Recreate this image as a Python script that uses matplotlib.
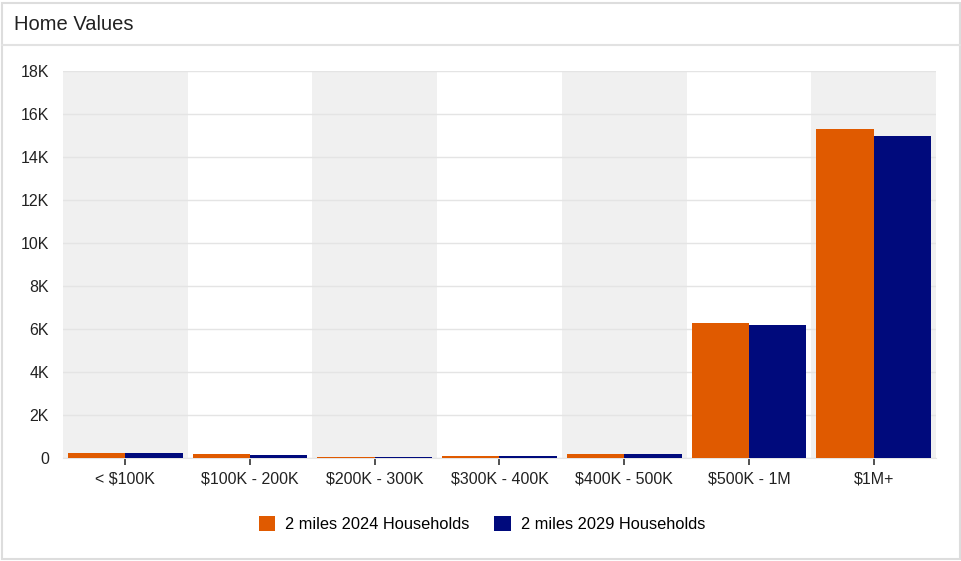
import matplotlib.pyplot as plt
import numpy as np
from matplotlib.patches import Rectangle
from matplotlib.lines import Line2D
from matplotlib.ticker import FuncFormatter

categories = ['< $100K', '$100K - 200K', '$200K - 300K', '$300K - 400K',
              '$400K - 500K', '$500K - 1M', '$1M+']
hh_2024 = [220, 170, 60, 80, 180, 6280, 15300]
hh_2029 = [210, 160, 55, 75, 170, 6190, 14980]
series_names = ['2 miles 2024 Households', '2 miles 2029 Households']
colors = ['#E05A00', '#000A7C']

plt.rcParams['font.family'] = ['Liberation Sans', 'DejaVu Sans']

fig = plt.figure(figsize=(9.62, 5.61), dpi=100)
fig.patch.set_facecolor('white')

# panel frame + title bar
fig.add_artist(Rectangle((0.002, 0.004), 0.996, 0.99, transform=fig.transFigure,
                         fill=False, edgecolor='#DDDDDD', linewidth=1.5))
fig.add_artist(Line2D([0.002, 0.998], [1 - 45 / 561] * 2, transform=fig.transFigure,
                      color='#E2E2E2', linewidth=1.5))
fig.text(14 / 962, 1 - 25 / 561, 'Home Values', fontsize=14.5, color='#222222',
         va='center', ha='left')

ax = fig.add_axes([63 / 962, 1 - 458 / 561, (936 - 63) / 962, (458 - 71) / 561])
x = np.arange(len(categories))

# alternating band shading
for i in x:
    if i % 2 == 0:
        ax.axvspan(i - 0.5, i + 0.5, color='#F0F0F0', zorder=0, linewidth=0)

w = 0.46
ax.bar(x - w / 2, hh_2024, width=w, color=colors[0], label=series_names[0], zorder=3)
ax.bar(x + w / 2, hh_2029, width=w, color=colors[1], label=series_names[1], zorder=3)

ax.set_xlim(-0.5, len(categories) - 0.5)
ax.set_ylim(0, 18000)
ax.set_yticks(np.arange(0, 18001, 2000))
ax.yaxis.set_major_formatter(FuncFormatter(lambda v, p: '0' if v == 0 else f'{int(v / 1000)}K'))
ax.grid(axis='y', color='#E4E4E4', linewidth=1, zorder=1)
ax.set_axisbelow(True)
ax.set_xticks(x)
ax.set_xticklabels(categories)
ax.tick_params(axis='x', length=5, width=1.2, color='#333333', labelsize=11.5,
               labelcolor='#222222', pad=5)
ax.tick_params(axis='y', length=0, labelsize=11.5, labelcolor='#222222', pad=10)
for s in ['top', 'right', 'left']:
    ax.spines[s].set_visible(False)
ax.spines['bottom'].set_color('#E4E4E4')
ax.set_facecolor('white')

fig.legend(loc='center', bbox_to_anchor=(482 / 962, 1 - 524 / 561), ncol=2,
           frameon=False, fontsize=11.8, handlelength=1.0, handleheight=1.0,
           columnspacing=1.5, handletextpad=0.6)

fig.savefig('out.png', dpi=100)
